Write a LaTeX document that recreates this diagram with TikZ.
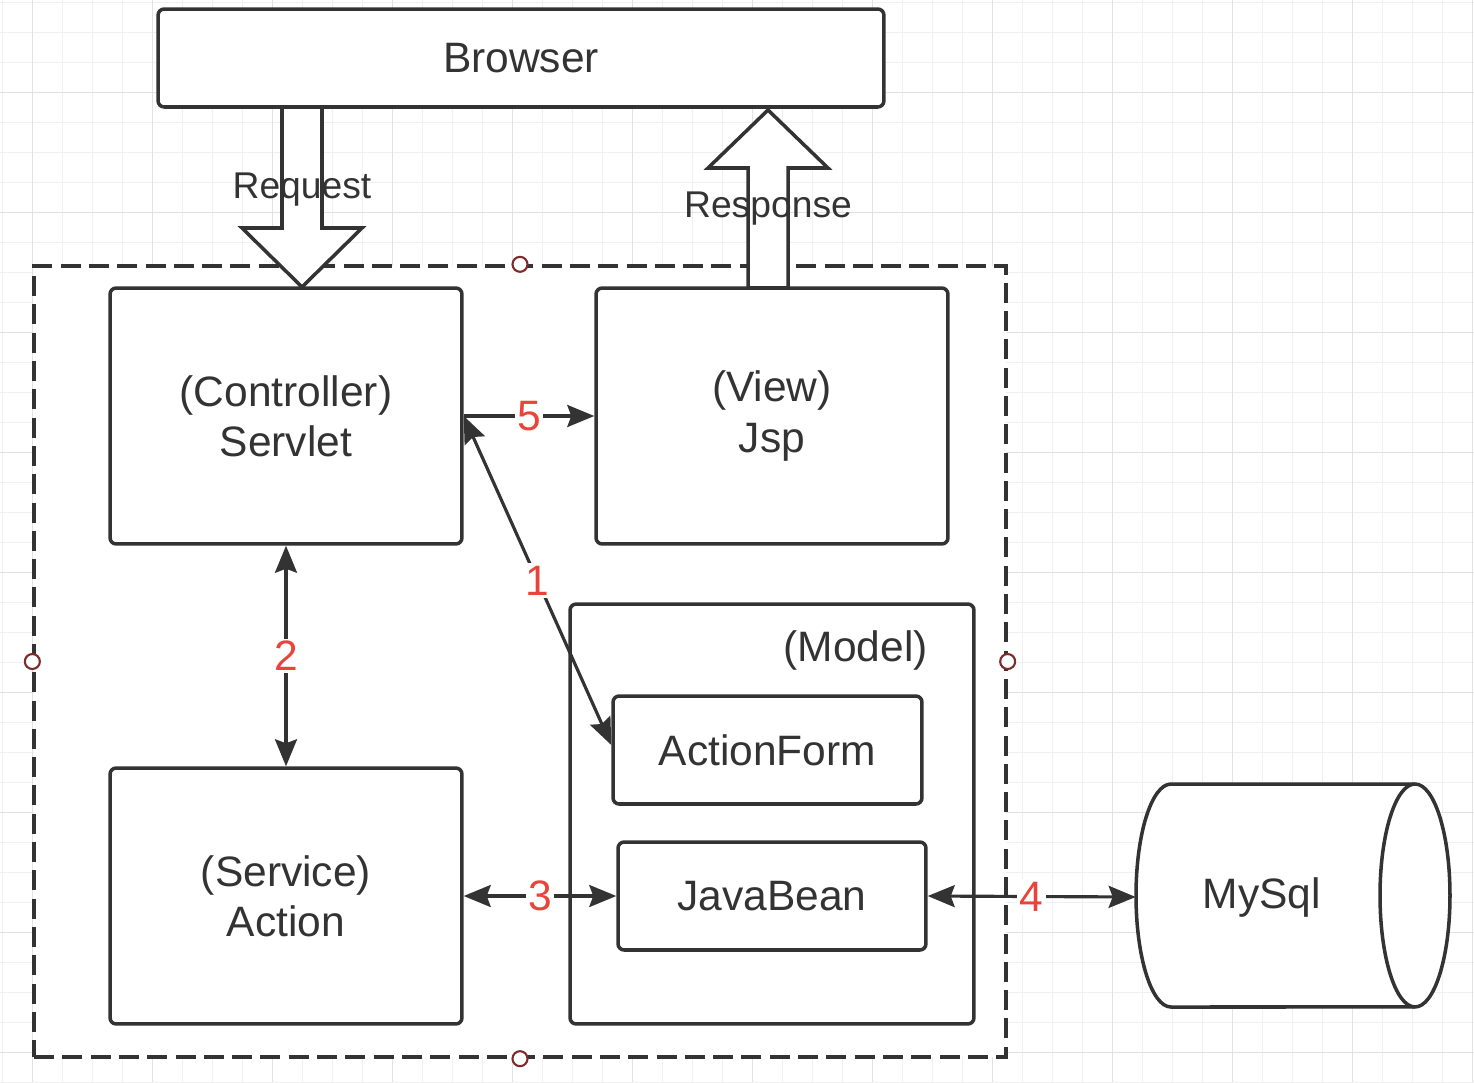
\documentclass[tikz,border=0pt]{standalone}
\usepackage{fontspec}
\setmainfont{Liberation Sans}
\usetikzlibrary{arrows.meta}
\definecolor{ink}{HTML}{333333}
\definecolor{lbl}{HTML}{E8443A}
\definecolor{gridminor}{HTML}{F0F0F0}
\definecolor{gridmajor}{HTML}{E2E2E2}
\definecolor{handlecol}{HTML}{7D2B2B}
\begin{document}
\begin{tikzpicture}[x=0.02cm,y=-0.02cm,
  font=\fontsize{24.2}{28.5}\selectfont,
  box/.style={draw=ink, line width=2pt, fill=white, rounded corners=3.5pt, inner sep=0pt, align=center, text=ink},
  conn/.style={draw=ink, line width=1.8pt},
  >={Stealth[length=0.54cm,width=0.44cm,inset=0.08cm]},
  num/.style={text=lbl, fill=white, inner sep=1.5pt},
  handle/.style={circle, draw=handlecol, fill=white, line width=1.2pt, minimum size=0.3cm, inner sep=0pt},
  blockarrow/.style={draw=ink, line width=2pt, fill=white, line join=miter},
  txt/.style={text=ink, inner sep=0pt},
  arrowtxt/.style={text=ink, inner sep=0pt, font=\fontsize{21.2}{25}\selectfont}
]
\useasboundingbox (0,0) rectangle (1474,1082);
% grid
\foreach \k in {0,...,49} \draw[gridminor, line width=0.8pt] (2.7+30*\k,0) -- (2.7+30*\k,1082);
\foreach \k in {0,...,36} \draw[gridminor, line width=0.8pt] (0,2.7+30*\k) -- (1474,2.7+30*\k);
\foreach \k in {0,...,12} \draw[gridmajor, line width=0.8pt] (32.7+120*\k,0) -- (32.7+120*\k,1082);
\foreach \k in {0,...,8} \draw[gridmajor, line width=0.8pt] (0,92.7+120*\k) -- (1474,92.7+120*\k);

% container
\node[draw=ink, line width=2pt, fill=white, dash pattern=on 0.4cm off 0.166cm, minimum width=19.44cm, minimum height=15.82cm, inner sep=0pt] (cont) at (520,661.5) {};

% boxes
\node[box, minimum width=14.52cm, minimum height=1.96cm] (browser) at (521,58) {Browser};
\node[box, minimum width=7.04cm, minimum height=5.12cm] (ctrl) at (286,416) {(Controller)\\Servlet};
\node[box, minimum width=7.04cm, minimum height=5.12cm] (view) at (772,416) {(View)\\Jsp};
\node[box, minimum width=7.04cm, minimum height=5.12cm] (svc) at (286,896) {(Service)\\Action};
\node[box, minimum width=8.08cm, minimum height=8.4cm] (model) at (772,814) {};
\node[txt, anchor=east] (modeltxt) at (928,650) {(Model)};
\node[box, minimum width=6.18cm, minimum height=2.16cm] (aform) at (767.5,750) {ActionForm};
\node[box, minimum width=6.16cm, minimum height=2.16cm] (jbean) at (772,896) {JavaBean};

% MySql cylinder
\draw[draw=ink, line width=2pt, fill=white] (1171,784) -- (1415,784)
  arc[start angle=90, end angle=-90, x radius=0.7cm, y radius=2.23cm] -- (1171,1007)
  arc[start angle=270, end angle=90, x radius=0.7cm, y radius=2.23cm] -- cycle;
\draw[draw=ink, line width=2pt] (1415,784) arc[start angle=90, end angle=270, x radius=0.7cm, y radius=2.23cm];
\node[txt, minimum width=5.04cm, minimum height=4.46cm] (mysql) at (1262,897) {MySql};

% block arrows
\draw[blockarrow] (282,107) -- (282,228) -- (242,228) -- (302,287) -- (362,228) -- (322,228) -- (322,107) -- cycle;
\node[arrowtxt] (req) at (302,190) {Request};
\draw[blockarrow] (748,288) -- (748,168) -- (708,168) -- (768,110) -- (828,168) -- (788,168) -- (788,288) -- cycle;
\node[arrowtxt] (resp) at (768,209) {Response};

% handles
\node[handle] (hn) at (cont.north) {};
\node[handle] (hs) at (cont.south) {};
\node[handle] (hw) at (cont.west) {};
\node[handle] (he) at (cont.east) {};

% connectors
\draw[conn, ->] (ctrl.east) -- node[num] (n5) {5} (view.west);
\draw[conn, <->] (ctrl.east) -- node[num] (n1) {1} ([yshift=0.1cm]aform.west);
\draw[conn, <->] (ctrl.south) -- node[num] (n2) {2} (svc.north);
\draw[conn, <->] (svc.east) -- node[num] (n3) {3} (jbean.west);
\draw[conn, <->] (jbean.east) -- node[num] (n4) {4} (mysql.west);
\end{tikzpicture}
\end{document}
